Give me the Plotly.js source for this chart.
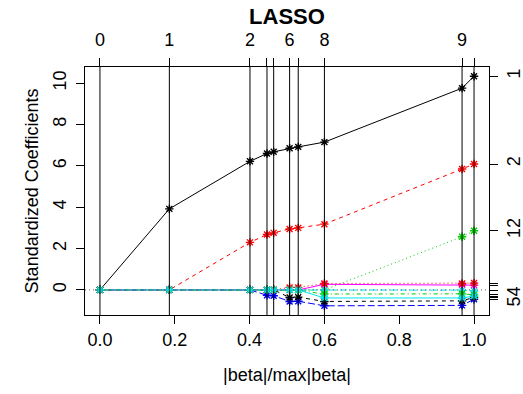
<!DOCTYPE html>
<html>
<head>
<meta charset="utf-8">
<script src="https://cdn.plot.ly/plotly-3.0.1.min.js"></script>
<style>html,body{margin:0;padding:0;background:#fff;}#chart{width:523px;height:394px;}</style>
</head>
<body>
<div id="chart"></div>
<script>
// Breakpoints of the LASSO path (|beta|/max|beta|)
const steps = [0, 0.1855, 0.401, 0.4465, 0.4644, 0.507, 0.530, 0.6, 0.968, 1.0];
const topLabels = ["0", "1", "2", "", "", "6", "", "8", "9", ""];

// Standardized coefficients of each variable at each breakpoint
const v1  = [0, 3.92, 6.22, 6.60, 6.68, 6.85, 6.92, 7.15, 9.76, 10.34];
const v2  = [0, 0, 2.30, 2.68, 2.76, 2.95, 3.00, 3.18, 5.85, 6.09];
const v3  = [0, 0, 0, 0, 0, 0, 0, 0, 2.57, 2.86];
const v4  = [0, 0, 0, -0.26, -0.28, -0.56, -0.55, -0.77, -0.75, -0.45];
const v5  = [0, 0, 0, 0, 0, 0, 0, -0.01, -0.01, -0.05];
const v6  = [0, 0, 0, 0, 0, 0, 0, 0.27, 0.26, 0.23];
const v7  = [0, 0, 0, 0, 0, -0.37, -0.35, -0.56, -0.53, -0.36];
const v8  = [0, 0, 0, 0, 0, 0.12, 0.12, 0.31, 0.31, 0.33];
const v9  = [0, 0, 0, 0, 0, 0, -0.02, -0.20, -0.19, -0.24];
const v10 = [0, 0, 0, 0, 0, 0, 0, -0.39, -0.39, -0.30];

const series = [v1, v2, v3, v4, v5, v6, v7, v8, v9, v10];
// labels on the right axis, one per variable (blank = hidden by overlap)
const rightLabels = ["1", "2", "12", "54", "", "", "", "", "", ""];

const colors = ["#000000", "#FF0000", "#00CD00", "#0000FF", "#00E5EE", "#FF00FF", "#000000", "#FF0000", "#00CD00", "#00E5EE"];
const dashes = ["solid", "4px,4px", "1px,3px", "7px,3px", "7px,3px", "solid", "4px,4px", "1px,3px", "1px,3px,4px,3px", "solid"];

const FONT = "Liberation Sans, Arial, Helvetica, sans-serif";
const xr = [-0.04, 1.04];
const ymin = Math.min(...series.flat()), ymax = Math.max(...series.flat());
const yr = [ymin - 0.04 * (ymax - ymin), ymax + 0.04 * (ymax - ymin)];

const traces = series.map((v, i) => ({
  x: steps, y: v, type: "scatter", mode: "lines+markers",
  line: {color: colors[i], dash: dashes[i], width: 1},
  marker: {symbol: "asterisk-open", size: 7, color: colors[i], line: {color: colors[i], width: 1.4}},
  hoverinfo: "skip", showlegend: false, xaxis: "x", yaxis: "y"
}));
// invisible trace to anchor the top and right axes
traces.push({x: steps, y: v1, type: "scatter", mode: "markers", marker: {opacity: 0},
  hoverinfo: "skip", showlegend: false, xaxis: "x2", yaxis: "y2"});

const finals = series.map(v => v[v.length - 1]);

const shapes = steps.map(s => ({type: "line", xref: "x", yref: "paper", x0: s, x1: s, y0: 0, y1: 1,
  line: {color: "#000", width: 1}}));
shapes.push({type: "line", xref: "paper", yref: "y", x0: 0, x1: 1, y0: 0, y1: 0,
  line: {color: "#666", width: 1, dash: "1px,3px"}});

const tickFont = {family: FONT, size: 18, color: "#000"};

const layout = {
  width: 523, height: 394,
  margin: {l: 85, r: 34, t: 67, b: 79, pad: 0},
  paper_bgcolor: "#fff", plot_bgcolor: "#fff",
  font: {family: FONT, size: 18, color: "#000"},
  title: {text: "<b>LASSO</b>", font: {family: FONT, size: 22, color: "#000"},
    xref: "paper", x: 0.5, xanchor: "center", yref: "container", y: 0.958, yanchor: "middle"},
  xaxis: {range: xr, showgrid: false, zeroline: false, showline: true, mirror: true,
    linecolor: "#000", linewidth: 1, ticks: "outside", ticklen: 8, tickcolor: "#000",
    tickvals: [0, 0.2, 0.4, 0.6, 0.8, 1.0], tickformat: ".1f", tickfont: tickFont,
    ticklabelstandoff: 0,
    title: {text: "|beta|/max|beta|", font: {family: FONT, size: 18}, standoff: 19}},
  xaxis2: {range: xr, overlaying: "x", side: "top", showgrid: false, zeroline: false, showline: false,
    ticks: "outside", ticklen: 8, tickcolor: "#000", tickmode: "array",
    tickvals: steps, ticktext: topLabels, tickfont: tickFont, ticklabelstandoff: 5},
  yaxis: {range: yr, showgrid: false, zeroline: false, showline: true, mirror: true,
    linecolor: "#000", linewidth: 1, ticks: "outside", ticklen: 8, tickcolor: "#000",
    tickvals: [0, 2, 4, 6, 8, 10], tickangle: -90, tickfont: tickFont, ticklabelstandoff: 3,
    title: {text: "Standardized Coefficients", font: {family: FONT, size: 18}, standoff: 6}},
  yaxis2: {range: yr, overlaying: "y", side: "right", showgrid: false, zeroline: false, showline: false,
    ticks: "outside", ticklen: 8, tickcolor: "#000", tickmode: "array",
    tickvals: finals, ticktext: rightLabels, tickangle: -90, tickfont: tickFont, ticklabelstandoff: 0},
  shapes: shapes
};

Plotly.newPlot("chart", traces, layout, {staticPlot: true, displayModeBar: false});
</script>
</body>
</html>
